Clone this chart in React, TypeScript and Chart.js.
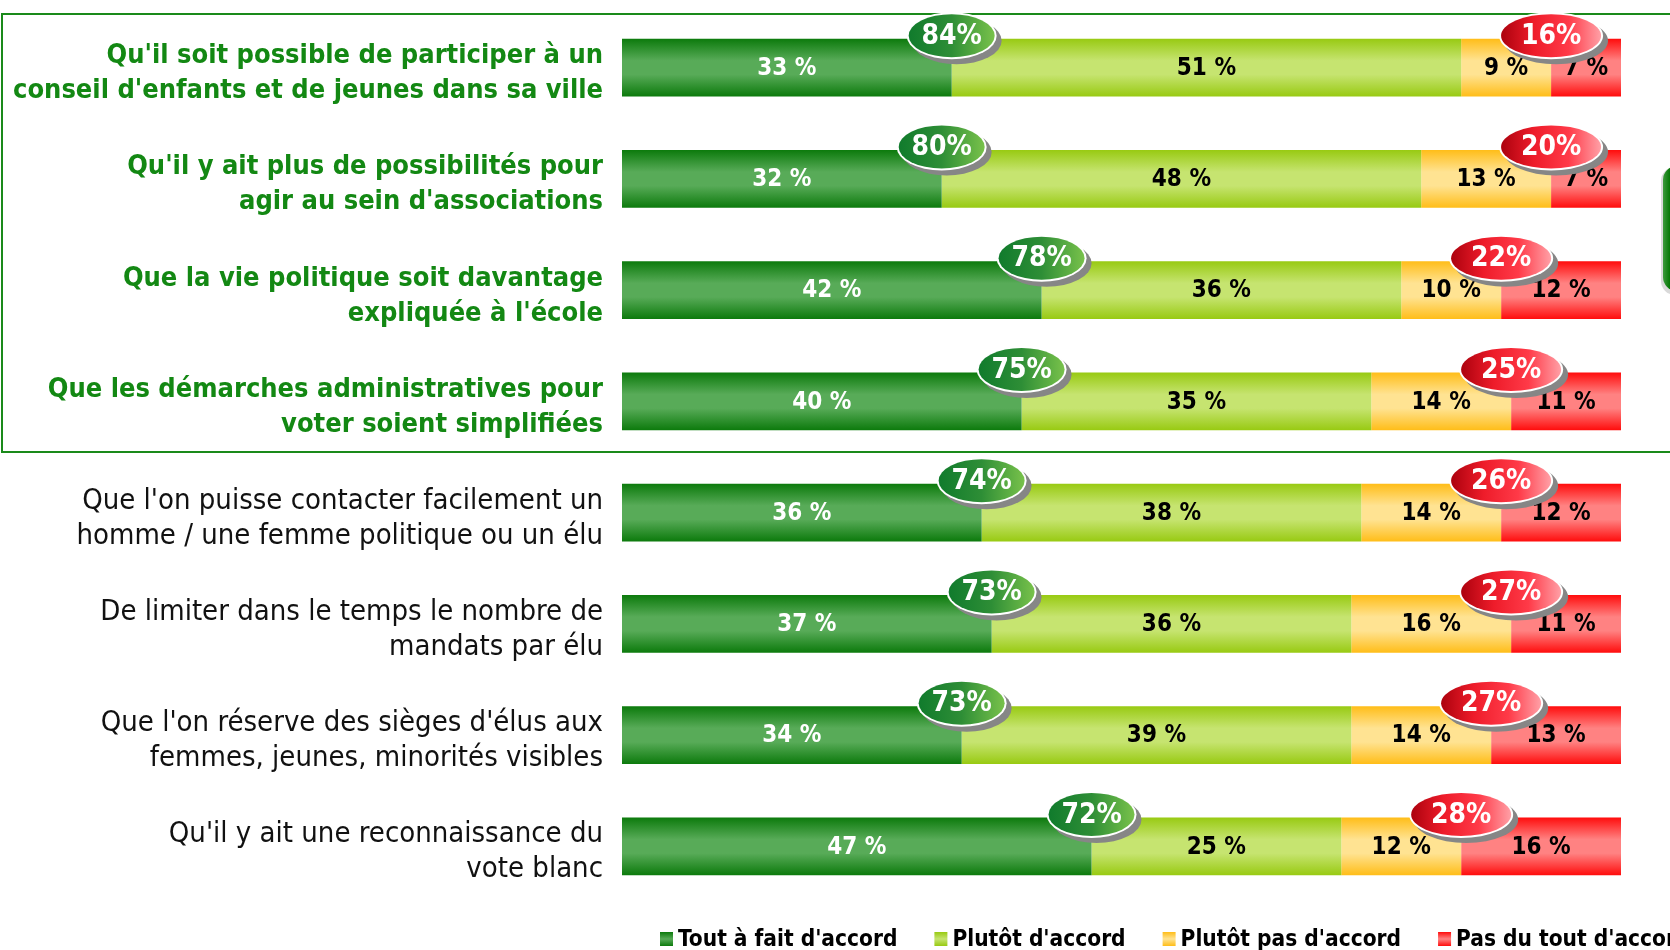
import React, { useEffect, useRef } from 'react';
import { Chart, registerables } from 'chart.js';

Chart.register(...registerables);

// ---------- DATA ----------
const categories: string[][] = [
  ["Qu'il soit possible de participer à un", "conseil d'enfants et de jeunes dans sa ville"],
  ["Qu'il y ait plus de possibilités pour", "agir au sein d'associations"],
  ["Que la vie politique soit davantage", "expliquée à l'école"],
  ["Que les démarches administratives pour", "voter soient simplifiées"],
  ["Que l'on puisse contacter facilement un", "homme / une femme politique ou un élu"],
  ["De limiter dans le temps le nombre de", "mandats par élu"],
  ["Que l'on réserve des sièges d'élus aux", "femmes, jeunes, minorités visibles"],
  ["Qu'il y ait une reconnaissance du", "vote blanc"],
];
const highlighted: boolean[] = [true, true, true, true, false, false, false, false];
const seriesNames: string[] = ["Tout à fait d'accord", "Plutôt d'accord", "Plutôt pas d'accord", "Pas du tout d'accord"];
const toutAFait: number[] = [33, 32, 42, 40, 36, 37, 34, 47];
const plutot: number[] = [51, 48, 36, 35, 38, 36, 39, 25];
const plutotPas: number[] = [9, 13, 10, 14, 14, 16, 14, 12];
const pasDuTout: number[] = [7, 7, 12, 11, 12, 11, 13, 16];
const totalAccord: number[] = [84, 80, 78, 75, 74, 73, 73, 72];
const totalPasAccord: number[] = [16, 20, 22, 25, 26, 27, 27, 28];

// ---------- STYLE ----------
const FONT = '"DejaVu Sans Condensed", "DejaVu Sans", sans-serif';
const BAR_PCT = 0.52;
const seriesStops: [string, string][] = [
  ['#0c7a0c', '#58ab58'],
  ['#98ca12', '#c6e470'],
  ['#ffbd18', '#ffe392'],
  ['#ff0c0c', '#ff8282'],
];
const GREEN_TEXT = '#138813';

function makeBg(idx: number) {
  const [edge, mid] = seriesStops[idx];
  return (ctx: any) => {
    const chart = ctx.chart;
    const ys = chart.scales && chart.scales.y;
    if (ctx.type !== 'data' || !ys || !chart.chartArea) return mid;
    const c = ys.getPixelForValue(ctx.dataIndex);
    const step = ys.height / categories.length;
    const half = (step * BAR_PCT) / 2;
    const g = chart.ctx.createLinearGradient(0, c - half, 0, c + half);
    g.addColorStop(0, edge);
    g.addColorStop(0.38, mid);
    g.addColorStop(0.62, mid);
    g.addColorStop(1, edge);
    return g;
  };
}

function ellipse(ctx: CanvasRenderingContext2D, cx: number, cy: number, rx: number, ry: number) {
  ctx.beginPath();
  ctx.ellipse(cx, cy, rx, ry, 0, 0, Math.PI * 2);
  ctx.closePath();
}

function drawBadge(ctx: CanvasRenderingContext2D, cx: number, cy: number, rx: number, ry: number, stops: string[], text: string) {
  ctx.save();
  ctx.fillStyle = '#868686';
  ellipse(ctx, cx + 5, cy + 5, rx, ry);
  ctx.fill();
  ctx.fillStyle = '#ffffff';
  ellipse(ctx, cx, cy, rx, ry);
  ctx.fill();
  const g = ctx.createLinearGradient(cx - rx, 0, cx + rx, 0);
  stops.forEach((s, i) => g.addColorStop(i / (stops.length - 1), s));
  ctx.fillStyle = g;
  ellipse(ctx, cx, cy, rx - 2, ry - 2);
  ctx.fill();
  ctx.fillStyle = '#ffffff';
  ctx.font = `bold 28px ${FONT}`;
  ctx.textAlign = 'center';
  ctx.textBaseline = 'middle';
  ctx.fillText(text, cx, cy + 1);
  ctx.restore();
}

const framePlugin = {
  id: 'frame',
  beforeDatasetsDraw(chart: any) {
    const ctx: CanvasRenderingContext2D = chart.ctx;
    ctx.save();
    ctx.strokeStyle = '#1a8a1a';
    ctx.lineWidth = 2;
    ctx.strokeRect(2, 14, 1720, 438);
    // partial panel at right edge
    const g = ctx.createLinearGradient(1663, 0, 1690, 0);
    g.addColorStop(0, '#3c9a3c');
    g.addColorStop(0.25, '#067806');
    g.addColorStop(1, '#067806');
    ctx.fillStyle = 'rgba(0,0,0,0.15)';
    ctx.beginPath();
    ctx.roundRect(1661, 167, 40, 128, 14);
    ctx.fill();
    ctx.fillStyle = g;
    ctx.beginPath();
    ctx.roundRect(1663, 166, 40, 125, 14);
    ctx.fill();
    ctx.restore();
  },
};

const overlayPlugin = {
  id: 'overlay',
  afterDatasetsDraw(chart: any) {
    const ctx: CanvasRenderingContext2D = chart.ctx;
    ctx.save();
    ctx.textAlign = 'center';
    ctx.textBaseline = 'middle';
    ctx.font = `bold 24px ${FONT}`;
    chart.data.datasets.forEach((ds: any, di: number) => {
      const meta = chart.getDatasetMeta(di);
      meta.data.forEach((bar: any, i: number) => {
        const p = bar.getProps(['x', 'base', 'y'], true);
        ctx.fillStyle = di === 0 ? '#ffffff' : '#000000';
        ctx.fillText(`${ds.data[i]} %`, (p.x + p.base) / 2, p.y + 1);
      });
    });
    ctx.restore();
    const m0 = chart.getDatasetMeta(0);
    const m3 = chart.getDatasetMeta(3);
    for (let i = 0; i < categories.length; i++) {
      const b0 = m0.data[i].getProps(['x', 'y', 'height'], true);
      const b3 = m3.data[i].getProps(['base', 'y', 'height'], true);
      const top = b0.y - b0.height / 2;
      drawBadge(ctx, b0.x, top - 3, 45, 23.5, ['#0f7a2c', '#2e8e36', '#7cc44c'], `${totalAccord[i]}%`);
      drawBadge(ctx, b3.base, top - 3, 52, 23.5, ['#a8000c', '#ee1c2a', '#ff3a48', '#ffa6ac'], `${totalPasAccord[i]}%`);
    }
  },
};

const legendPlugin = {
  id: 'customLegend',
  afterDraw(chart: any) {
    const ctx: CanvasRenderingContext2D = chart.ctx;
    ctx.save();
    ctx.font = `bold 22.5px ${FONT}`;
    ctx.textBaseline = 'middle';
    ctx.textAlign = 'left';
    let x = 660;
    const cy = 939;
    chart.data.datasets.forEach((ds: any, di: number) => {
      const [edge, mid] = seriesStops[di];
      const g = ctx.createLinearGradient(0, cy - 7, 0, cy + 7);
      g.addColorStop(0, edge);
      g.addColorStop(0.5, mid);
      g.addColorStop(1, edge);
      ctx.fillStyle = g;
      ctx.fillRect(x, cy - 7, 13, 14);
      ctx.fillStyle = '#000000';
      ctx.fillText(ds.label, x + 18, cy + 1);
      x += 18 + ctx.measureText(ds.label).width + 37;
    });
    ctx.restore();
  },
};

export default function App() {
  const ref = useRef<HTMLCanvasElement | null>(null);
  useEffect(() => {
    if (!ref.current) return;
    const values = [toutAFait, plutot, plutotPas, pasDuTout];
    const chart = new Chart(ref.current, {
      type: 'bar',
      data: {
        labels: categories,
        datasets: values.map((v, i) => ({
          label: seriesNames[i],
          data: v,
          backgroundColor: makeBg(i),
          borderWidth: 0,
          barPercentage: BAR_PCT,
          categoryPercentage: 1,
        })),
      },
      options: {
        indexAxis: 'y',
        responsive: false,
        animation: false,
        layout: { padding: { top: 12, bottom: 48, left: 0, right: 49 } },
        plugins: {
          legend: { display: false },
          tooltip: { enabled: false },
        },
        scales: {
          x: { stacked: true, min: 0, max: 100, display: false },
          y: {
            stacked: true,
            grid: { display: false, drawTicks: false },
            border: { display: false },
            afterFit: (scale: any) => {
              scale.width = 622;
              scale.paddingTop = 0;
              scale.paddingBottom = 0;
            },
            ticks: {
              padding: 19,
              labelOffset: 6,
              crossAlign: 'near',
              color: (c: any) => (highlighted[c.index] ? GREEN_TEXT : '#111111'),
              font: (c: any) => ({
                family: FONT,
                size: highlighted[c.index] ? 27 : 29,
                weight: highlighted[c.index] ? 'bold' : 'normal',
                lineHeight: 35 / (highlighted[c.index] ? 27 : 29),
              }),
            },
          },
        },
      },
      plugins: [framePlugin, overlayPlugin, legendPlugin],
    } as any);
    return () => chart.destroy();
  }, []);
  return (
    <div style={{ position: 'absolute', left: 0, top: 0, width: 1670, height: 950, background: '#fff' }}>
      <canvas ref={ref} width={1670} height={950} style={{ display: 'block' }} />
    </div>
  );
}
